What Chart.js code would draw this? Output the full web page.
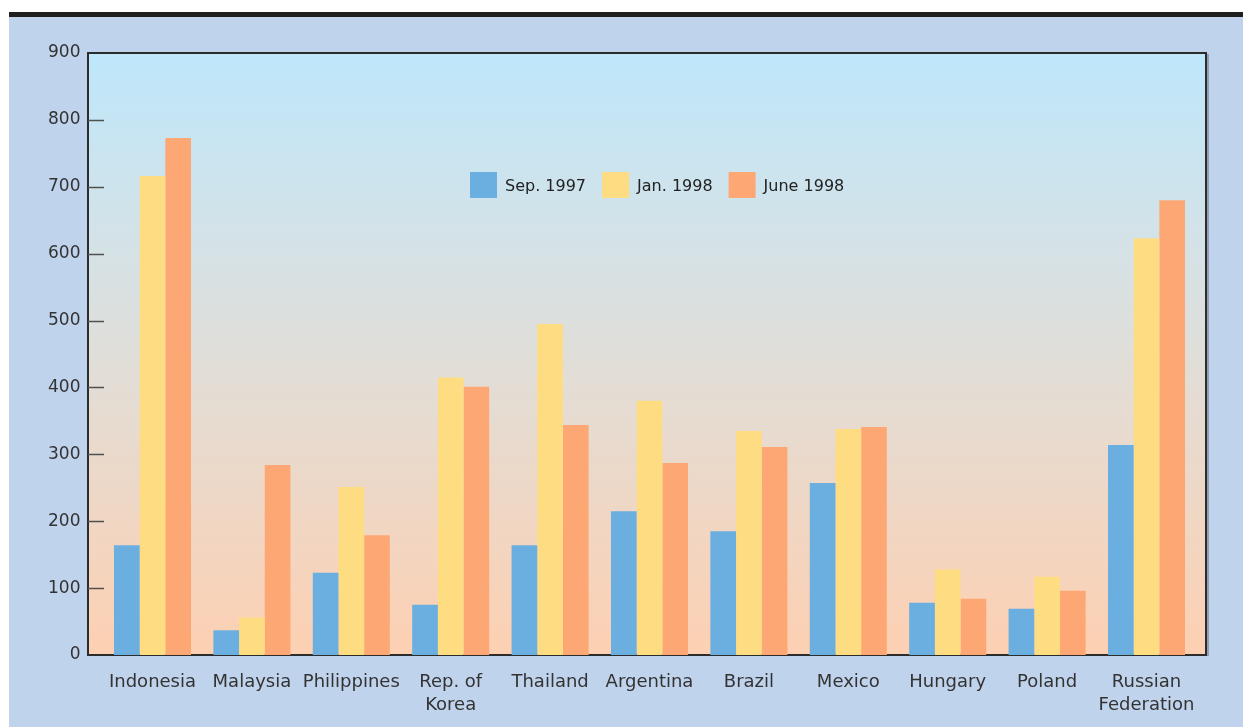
<!DOCTYPE html>
<html>
<head>
<meta charset="utf-8">
<title>Spreads, Sep. 1997 – June 1998</title>
<script src="https://cdn.jsdelivr.net/npm/chart.js@4/dist/chart.umd.min.js"></script>
<style>
  html, body { margin: 0; padding: 0; background: #ffffff; }
  #frame {
    position: absolute; left: 9px; top: 12px; width: 1234px; height: 715px;
    background: #c0d3ec; border-top: 5px solid #1f1f1f; box-sizing: border-box;
  }
  #chart { position: absolute; left: 0; top: 0; }
</style>
</head>
<body>
<div id="frame"></div>
<canvas id="chart" width="1243" height="727"></canvas>
<script>
// Countries along the horizontal axis (two-line names as arrays)
const categories = [
  'Indonesia', 'Malaysia', 'Philippines', ['Rep. of', 'Korea'], 'Thailand',
  'Argentina', 'Brazil', 'Mexico', 'Hungary', 'Poland', ['Russian', 'Federation']
];
// Values for each survey date
const sep1997 = [164, 37, 123, 75, 164, 215, 185, 257, 78, 69, 314];
const jan1998 = [716, 56, 251, 415, 495, 380, 335, 338, 128, 117, 623];
const jun1998 = [773, 284, 179, 401, 344, 287, 311, 341, 84, 96, 680];
const seriesNames = ['Sep. 1997', 'Jan. 1998', 'June 1998'];
const yTickValues = [0, 100, 200, 300, 400, 500, 600, 700, 800, 900];

const COLORS = ['#6aafe0', '#fedd82', '#fda874'];
const FONT = 'DejaVu Sans';

// Plot frame extends a little past the category band on each side
const FRAME_LEFT_EXTRA = 14.8;
const FRAME_RIGHT_EXTRA = 9.8;

const plotDecor = {
  id: 'plotDecor',
  beforeDatasetsDraw(chart) {
    const { ctx, chartArea: a, scales: { y } } = chart;
    const left = a.left - FRAME_LEFT_EXTRA;
    const right = a.right + FRAME_RIGHT_EXTRA;
    ctx.save();
    // gradient fill of the plotting area
    const g = ctx.createLinearGradient(0, a.top, 0, a.bottom);
    g.addColorStop(0, '#bee7fb');
    g.addColorStop(0.33, '#d5e2e6');
    g.addColorStop(0.55, '#e3ddd5');
    g.addColorStop(1, '#fdd0b2');
    ctx.fillStyle = g;
    ctx.fillRect(left, a.top, right - left, a.bottom - a.top);

    // drop shadow on the right edge
    ctx.strokeStyle = 'rgba(60,60,70,0.35)';
    ctx.lineWidth = 2;
    ctx.beginPath();
    ctx.moveTo(right + 2, a.top + 1);
    ctx.lineTo(right + 2, a.bottom + 1);
    ctx.stroke();

    // frame
    ctx.strokeStyle = '#2c2c2c';
    ctx.lineWidth = 2;
    ctx.strokeRect(left, a.top, right - left, a.bottom - a.top);

    // short tick marks inside the plot at each y tick
    ctx.strokeStyle = '#505050';
    ctx.lineWidth = 1.5;
    y.ticks.forEach(t => {
      if (t.value === y.min || t.value === y.max) return;
      const py = Math.round(y.getPixelForValue(t.value)) + 0.5;
      ctx.beginPath();
      ctx.moveTo(left, py);
      ctx.lineTo(left + 16, py);
      ctx.stroke();
    });
    ctx.restore();
  },
  afterDraw(chart) {
    // legend row inside the plot
    const { ctx } = chart;
    ctx.save();
    ctx.font = '16px "' + FONT + '"';
    ctx.textBaseline = 'middle';
    ctx.fillStyle = '#222222';
    let x = 470;
    const cy = 185;
    chart.data.datasets.forEach(ds => {
      ctx.fillStyle = ds.backgroundColor;
      ctx.fillRect(x, cy - 13, 27, 26);
      ctx.fillStyle = '#222222';
      ctx.textAlign = 'left';
      ctx.fillText(ds.label, x + 35, cy + 2);
      x += 35 + ctx.measureText(ds.label).width + 16;
    });
    ctx.restore();
  }
};

new Chart(document.getElementById('chart'), {
  type: 'bar',
  data: {
    labels: categories,
    datasets: [
      { label: seriesNames[0], data: sep1997, backgroundColor: COLORS[0] },
      { label: seriesNames[1], data: jan1998, backgroundColor: COLORS[1] },
      { label: seriesNames[2], data: jun1998, backgroundColor: COLORS[2] }
    ]
  },
  options: {
    responsive: false,
    devicePixelRatio: 1,
    animation: false,
    layout: { padding: { left: 0, right: 46.8, top: 53, bottom: 0 } },
    datasets: { bar: { categoryPercentage: 0.775, barPercentage: 1.0, borderWidth: 0 } },
    plugins: { legend: { display: false }, tooltip: { enabled: false } },
    scales: {
      x: {
        grid: { display: false, drawTicks: false },
        border: { display: false },
        ticks: {
          color: '#333333', padding: 15, maxRotation: 0, autoSkip: false,
          font: { family: FONT, size: 18, lineHeight: 1.32 }
        },
        afterFit(s) { s.height = 72; }
      },
      y: {
        min: 0, max: 900,
        grid: { display: false, drawTicks: false },
        border: { display: false },
        afterBuildTicks(s) { s.ticks = yTickValues.map(v => ({ value: v })); },
        ticks: {
          color: '#333333', padding: 22.3,
          font: { family: FONT, size: 17 }
        },
        afterFit(s) { s.width = 102.8; }
      }
    }
  },
  plugins: [plotDecor]
});
</script>
</body>
</html>
